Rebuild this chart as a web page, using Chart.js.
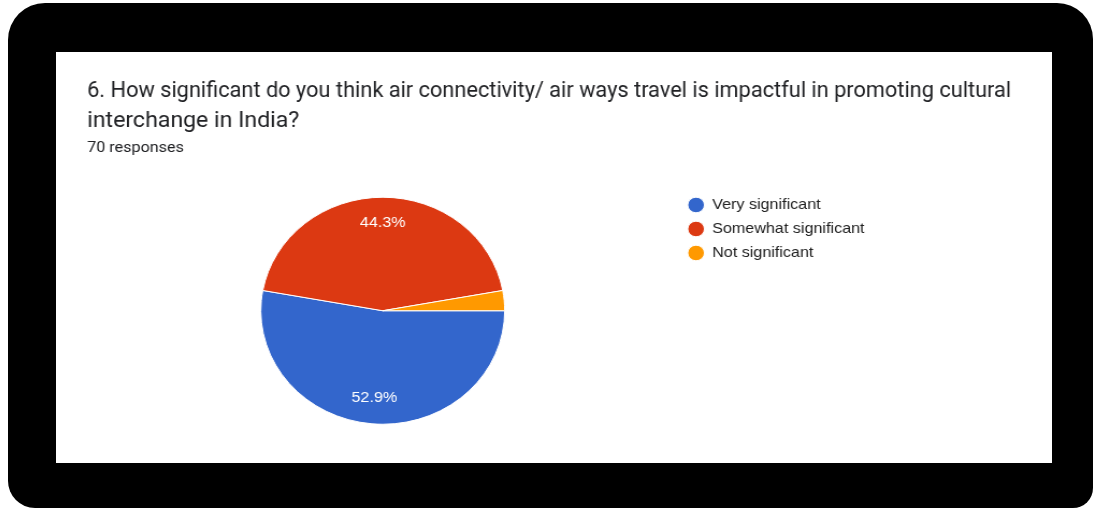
<!DOCTYPE html>
<html>
<head>
<meta charset="utf-8">
<title>Air connectivity survey</title>
<script src="https://cdn.jsdelivr.net/npm/chart.js@4.4.1/dist/chart.umd.min.js"></script>
<style>
    body {
        margin: 0;
        background: #ffffff;
        width: 1093px;
        height: 508px;
        overflow: hidden;
        position: relative;
    }
    #frame {
        position: absolute;
        left: 8px;
        top: 3px;
        width: 1085px;
        height: 505px;
        background: #000000;
        border-radius: 37px 36px 20px 27px;
    }
    #panel {
        position: absolute;
        left: 56px;
        top: 52px;
        width: 996px;
        height: 411px;
        background: #ffffff;
    }
    /* chart is laid out narrower and stretched to the panel width */
    #chartBox {
        position: absolute;
        left: 0;
        top: 0;
        width: 927px;
        height: 411px;
        transform: scaleX(1.0744);
        transform-origin: 0 0;
    }
</style>
</head>
<body>
<div id="frame"></div>
<div id="panel">
    <div id="chartBox"><canvas id="pieChart"></canvas></div>
</div>
<script>
// Survey question and answers
const questionLines = [
    '6. How significant do you think air connectivity/ air ways travel is impactful in promoting cultural',
    'interchange in India?'
];
const responseNote = '70 responses';
const answerLabels = ['Very significant', 'Somewhat significant', 'Not significant'];
const answerCounts = [37, 31, 2];
const sliceColors = ['#3366cc', '#dc3912', '#ff9900'];

// Percentage text inside the larger slices
const sliceLabels = {
    id: 'sliceLabels',
    afterDatasetsDraw(chart) {
        const ctx = chart.ctx;
        const meta = chart.getDatasetMeta(0);
        const total = answerCounts.reduce((a, b) => a + b, 0);
        ctx.save();
        ctx.font = '15px "Liberation Sans", Arial, sans-serif';
        ctx.fillStyle = '#ffffff';
        ctx.textAlign = 'center';
        ctx.textBaseline = 'middle';
        meta.data.forEach((arc, i) => {
            const share = answerCounts[i] / total * 100;
            if (share < 5) return; // slice too thin for a label
            const { x, y, startAngle, endAngle, outerRadius } =
                arc.getProps(['x', 'y', 'startAngle', 'endAngle', 'outerRadius'], true);
            const mid = (startAngle + endAngle) / 2;
            const r = outerRadius * 0.77;
            ctx.fillText(share.toFixed(1) + '%', x + Math.cos(mid) * r, y + Math.sin(mid) * r);
        });
        ctx.restore();
    }
};

// Empty box right of the legend, keeps the legend in the middle of the panel
// while the title still gets most of the width
const legendSpacer = {
    id: 'legendSpacer',
    install(chart) {
        Chart.layouts.addBox(chart, {
            position: 'right',
            weight: 2000,
            fullSize: false,
            options: {},
            width: 0,
            height: 0,
            isHorizontal() { return false; },
            update(maxWidth, maxHeight) {
                this.width = 126.5;
                this.height = maxHeight;
            },
            draw() {}
        });
    }
};

const ctx = document.getElementById('pieChart').getContext('2d');

new Chart(ctx, {
    type: 'pie',
    data: {
        labels: answerLabels,
        datasets: [{
            data: answerCounts,
            backgroundColor: sliceColors,
            borderColor: '#ffffff',
            borderWidth: 1,
            rotation: 90,
            radius: 113.5
        }]
    },
    options: {
        responsive: true,
        maintainAspectRatio: false,
        animation: false,
        events: [],
        layout: {
            padding: { left: 29, right: 38, top: 13, bottom: 30 }
        },
        plugins: {
            title: {
                display: true,
                text: questionLines,
                align: 'start',
                color: '#202124',
                font: { family: 'Roboto', size: 21.5, weight: 'normal', lineHeight: 1.395 },
                padding: { top: 12, bottom: 0 }
            },
            subtitle: {
                display: true,
                text: responseNote,
                align: 'start',
                color: '#202124',
                font: { family: 'Roboto', size: 15, weight: 'normal', lineHeight: 1.2 },
                padding: { top: 2.5, bottom: 31 }
            },
            legend: {
                position: 'right',
                align: 'start',
                fullSize: false,
                labels: {
                    usePointStyle: true,
                    pointStyle: 'circle',
                    boxHeight: 11,
                    padding: 9,
                    color: '#212121',
                    font: { family: '"Liberation Sans", Arial, sans-serif', size: 15 }
                }
            },
            tooltip: { enabled: false }
        }
    },
    plugins: [legendSpacer, sliceLabels]
});
</script>
</body>
</html>
